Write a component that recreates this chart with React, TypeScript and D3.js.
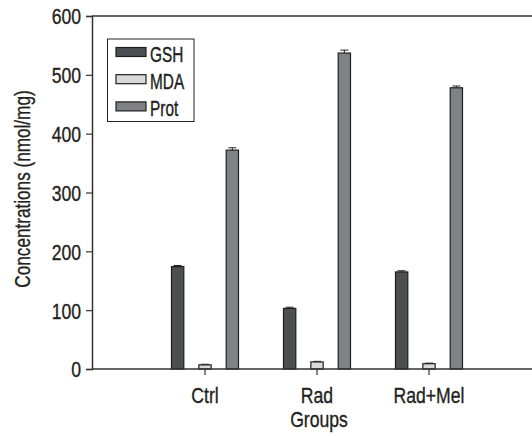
import React, { useEffect, useRef } from 'react';
import * as d3 from 'd3';

const groups = ['Ctrl', 'Rad', 'Rad+Mel'];
const seriesNames = ['GSH', 'MDA', 'Prot'];
const seriesColors = ['#4e4f52', '#d9d9d9', '#808186'];
const gshValues = [174, 103, 165];
const mdaValues = [7, 12, 9];
const protValues = [372, 537, 478];
const gshErrors = [2, 2, 2];
const mdaErrors = [1, 1, 1];
const protErrors = [4, 5, 3];
const yTicks = [0, 100, 200, 300, 400, 500, 600];

// condensed look: Liberation Sans squeezed horizontally
const FONT = '"Liberation Sans", Arial, sans-serif';
const SQ = 0.8;
const TXT = '#231f20';

export default function App() {
  const ref = useRef<SVGSVGElement>(null);

  useEffect(() => {
    const svg = d3.select(ref.current);
    svg.selectAll('*').remove();

    const left = 92, right = 532, top = 16, bottom = 369;

    const y = d3.scaleLinear().domain([0, 600]).range([bottom, top]);
    const x = d3.scaleBand().domain(groups).range([149, 485]);
    const inner = d3.scaleBand().domain(seriesNames).range([-33.5, 33.5]).paddingInner(0.55);

    const values = [gshValues, mdaValues, protValues];
    const errors = [gshErrors, mdaErrors, protErrors];

    const g = svg.append('g');

    // top frame line
    g.append('line')
      .attr('x1', left).attr('x2', right).attr('y1', top).attr('y2', top)
      .attr('stroke', '#333').attr('stroke-width', 1.5);

    // bars
    seriesNames.forEach((name, si) => {
      groups.forEach((grp, gi) => {
        const cx = x(grp)! + x.bandwidth() / 2;
        const bx = cx + inner(name)!;
        const v = values[si][gi];
        const e = errors[si][gi];
        const capX = bx + inner.bandwidth() / 2;
        g.append('line')
          .attr('x1', capX).attr('x2', capX)
          .attr('y1', y(v)).attr('y2', y(v + e))
          .attr('stroke', '#222').attr('stroke-width', 1);
        g.append('line')
          .attr('x1', capX - 4).attr('x2', capX + 4)
          .attr('y1', y(v + e)).attr('y2', y(v + e))
          .attr('stroke', '#222').attr('stroke-width', 1);
        g.append('rect')
          .attr('x', bx).attr('y', y(v))
          .attr('width', inner.bandwidth()).attr('height', y(0) - y(v))
          .attr('fill', seriesColors[si])
          .attr('stroke', '#1e1e1e').attr('stroke-width', 1.2);
      });
    });

    // y axis
    const yAxis = g.append('g')
      .attr('transform', `translate(${left},0)`)
      .call(d3.axisLeft(y).tickValues(yTicks).tickSize(6).tickPadding(5));
    yAxis.select('.domain').attr('stroke', '#333').attr('stroke-width', 1.5);
    yAxis.selectAll('.tick line').attr('stroke', '#333').attr('stroke-width', 1.2);
    yAxis.selectAll('.tick text')
      .attr('x', -11 / SQ)
      .attr('dy', '0.36em')
      .attr('transform', `scale(${SQ},1)`)
      .attr('font-family', FONT).attr('font-size', 22).attr('fill', TXT)
      .attr('stroke', TXT).attr('stroke-width', 0.35);

    // x axis
    const xAxis = g.append('g')
      .attr('transform', `translate(0,${bottom})`)
      .call(d3.axisBottom(x).tickSize(6).tickPadding(12));
    xAxis.select('.domain')
      .attr('d', `M${left},0H${right}`)
      .attr('stroke', '#333').attr('stroke-width', 1.5);
    xAxis.selectAll('.tick line').attr('stroke', '#333').attr('stroke-width', 1.2);
    xAxis.selectAll('.tick text')
      .attr('transform', `scale(${SQ},1)`)
      .attr('font-family', FONT).attr('font-size', 22).attr('fill', TXT)
      .attr('stroke', TXT).attr('stroke-width', 0.35);

    // axis titles
    g.append('text')
      .attr('transform', `translate(319,427) scale(${SQ},1)`)
      .attr('text-anchor', 'middle')
      .attr('font-family', FONT).attr('font-size', 22).attr('fill', TXT)
      .attr('stroke', TXT).attr('stroke-width', 0.35)
      .text('Groups');
    g.append('text')
      .attr('transform', `translate(29.5,189) rotate(-90) scale(0.78,1)`)
      .attr('text-anchor', 'middle')
      .attr('font-family', FONT).attr('font-size', 22).attr('fill', TXT)
      .attr('stroke', TXT).attr('stroke-width', 0.35)
      .text('Concentrations (nmol/mg)');

    // legend
    const legend = g.append('g');
    legend.append('rect')
      .attr('x', 107.5).attr('y', 39).attr('width', 86.5).attr('height', 82.5)
      .attr('fill', 'white').attr('stroke', '#222').attr('stroke-width', 1);
    seriesNames.forEach((name, i) => {
      const cy = 52 + i * 27.2;
      legend.append('rect')
        .attr('x', 116).attr('y', cy - 4.5).attr('width', 30).attr('height', 9)
        .attr('fill', seriesColors[i]).attr('stroke', '#1e1e1e').attr('stroke-width', 1.2);
      legend.append('text')
        .attr('transform', `translate(150,${cy + 10}) scale(0.7,1)`)
        .attr('font-family', FONT).attr('font-size', 22).attr('fill', TXT)
        .attr('stroke', TXT).attr('stroke-width', 0.4)
        .text(name);
    });
  }, []);

  return (
    <svg
      ref={ref}
      width={532}
      height={436}
      style={{ position: 'absolute', left: 0, top: 0, background: 'white' }}
    />
  );
}
